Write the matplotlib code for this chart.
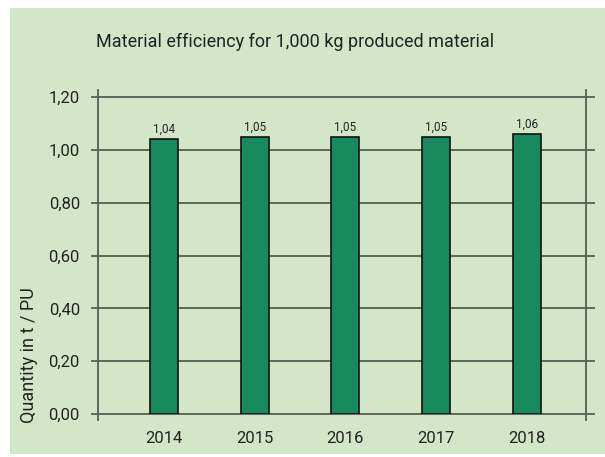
import matplotlib.pyplot as plt
from matplotlib.patches import Rectangle

# data
years = ['2014', '2015', '2016', '2017', '2018']
values = [1.04, 1.05, 1.05, 1.05, 1.06]
yticks = [0.0, 0.2, 0.4, 0.6, 0.8, 1.0, 1.2]

bg = '#d4e6c8'
bar_color = '#178a5e'
line_color = '#525e52'
text_color = '#222222'

plt.rcParams['font.family'] = ['Roboto', 'DejaVu Sans']

fig = plt.figure(figsize=(6.05, 4.57), dpi=100)
fig.patch.set_facecolor('white')
# green panel behind everything
fig.patches.append(Rectangle((10/605, 1-454/457), 1, (454-8)/457,
                             transform=fig.transFigure, facecolor=bg,
                             edgecolor='none', zorder=-10))

ax = fig.add_axes([98/605, 1-414/457, 488/605, 317/457])
ax.set_facecolor('none')

x = range(len(years))
ax.bar(x, values, width=0.31, color=bar_color, edgecolor='#111111',
       linewidth=1.2, zorder=3)
for xi, v in zip(x, values):
    ax.text(xi, v + 0.012, f'{v:.2f}'.replace('.', ','), ha='center',
            va='bottom', fontsize=8.5, color=text_color)

ax.set_xlim(-0.725, 4.65)
ax.set_ylim(0, 1.2)

for s in ax.spines.values():
    s.set_visible(False)

# horizontal grid lines, sticking out a little on both sides
for yv in yticks:
    ax.plot([-0.013, 1.016], [yv / 1.2, yv / 1.2], transform=ax.transAxes,
            color=line_color, lw=1.3, clip_on=False, zorder=2)
# left and right vertical lines
for xv in [0, 1]:
    ax.plot([xv, xv], [-0.019, 1.022], transform=ax.transAxes,
            color=line_color, lw=1.3, clip_on=False, zorder=2)

ax.set_yticks(yticks)
ax.set_yticklabels([f'{t:.2f}'.replace('.', ',') for t in yticks],
                   fontsize=12, color=text_color)
ax.set_xticks(list(x))
ax.set_xticklabels(years, fontsize=12, color=text_color)
ax.tick_params(axis='both', length=0)
ax.tick_params(axis='y', pad=13)
ax.tick_params(axis='x', pad=12)

fig.text(295/605, 1-42/457, 'Material efficiency for 1,000 kg produced material',
         ha='center', va='center', fontsize=13, color=text_color)
fig.text(29/605, 1-355/457, 'Quantity in t / PU', rotation=90,
         ha='center', va='center', fontsize=13, color=text_color)

fig.savefig('out.png', dpi=100)
